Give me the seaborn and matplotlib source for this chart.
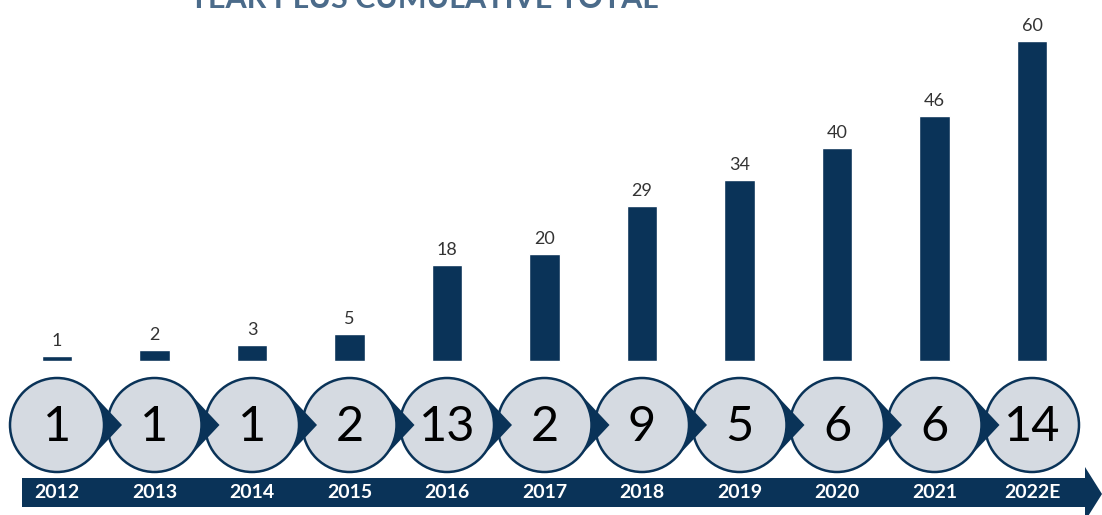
import numpy as np
import pandas as pd
import matplotlib
matplotlib.use("Agg")
import matplotlib.pyplot as plt
import seaborn as sns
from matplotlib.patches import Ellipse, Polygon, Rectangle

years = ['2012', '2013', '2014', '2015', '2016', '2017', '2018', '2019', '2020', '2021', '2022E']
per_year = [1, 1, 1, 2, 13, 2, 9, 5, 6, 6, 14]
cumulative = [1, 2, 3, 5, 18, 20, 29, 34, 40, 46, 60]

navy = '#0a3358'
circle_fill = '#d5dae1'
title_col = '#4b6b8a'

sns.set_style('white')
plt.rcParams['font.family'] = ['Lato', 'DejaVu Sans']

W, H = 1102, 515
fig = plt.figure(figsize=(W / 100, H / 100), dpi=100)
ax = fig.add_axes([0, 0, 1, 1])

df = pd.DataFrame({'year': years, 'total': cumulative})
sns.barplot(data=df, x='year', y='total', color=navy, saturation=1, width=0.31, ax=ax)
ax.bar_label(ax.containers[0], padding=5, fontsize=13, color='#333333')

# pixel mapping: category step 97.5px starting at 57px, 5.333px per unit, baseline at 361px
step, x0 = 97.5, 57
ppu, base = 5.333, 361
ax.set_xlim(-x0 / step, (W - x0) / step)
ax.set_ylim(-(H - base) / ppu, base / ppu)
ax.axis('off')

def px_x(p):
    return p / step

def px_y(p):
    return p / ppu

cy = -(425 - base) / ppu
r = 47
n = len(years)
for i in range(n):
    z = 20 - 2 * i
    circ = Ellipse((i, cy), 2 * px_x(r), 2 * px_y(r), facecolor=circle_fill,
                   edgecolor=navy, lw=1.8, zorder=z)
    ax.add_patch(circ)
    if i < n - 1:
        # teardrop point: tangent lines from the tip to the circle
        tri = Polygon([(i + px_x(34), cy + px_y(33)), (i + px_x(65), cy),
                       (i + px_x(34), cy - px_y(33))], closed=True,
                      facecolor=navy, edgecolor='none', zorder=z - 1)
        ax.add_patch(tri)
    ax.text(i, cy - px_y(2), str(per_year[i]), ha='center', va='center',
            fontsize=35, color='black', zorder=30)

# bottom arrow band
band_top, band_bot = -(478 - base) / ppu, -(507 - base) / ppu
ax.add_patch(Rectangle((px_x(22 - x0), band_bot), px_x(1086 - 22), band_top - band_bot,
                       facecolor=navy, edgecolor='none', zorder=5))
ax.add_patch(Polygon([(px_x(1085 - x0), -(467 - base) / ppu),
                      (px_x(1102 - x0), -(494 - base) / ppu),
                      (px_x(1085 - x0), -(521 - base) / ppu)],
                     closed=True, facecolor=navy, edgecolor='none', zorder=5))
for i, y in enumerate(years):
    ax.text(i, (band_top + band_bot) / 2, y, ha='center', va='center',
            fontsize=14, color='white', fontweight='bold', zorder=6)

ax.text(px_x(188 - x0), (base - 8) / ppu, 'YEAR PLUS CUMULATIVE TOTAL', ha='left',
        va='baseline', fontsize=22, fontweight='bold', color=title_col)

fig.savefig('out.png', dpi=100)
